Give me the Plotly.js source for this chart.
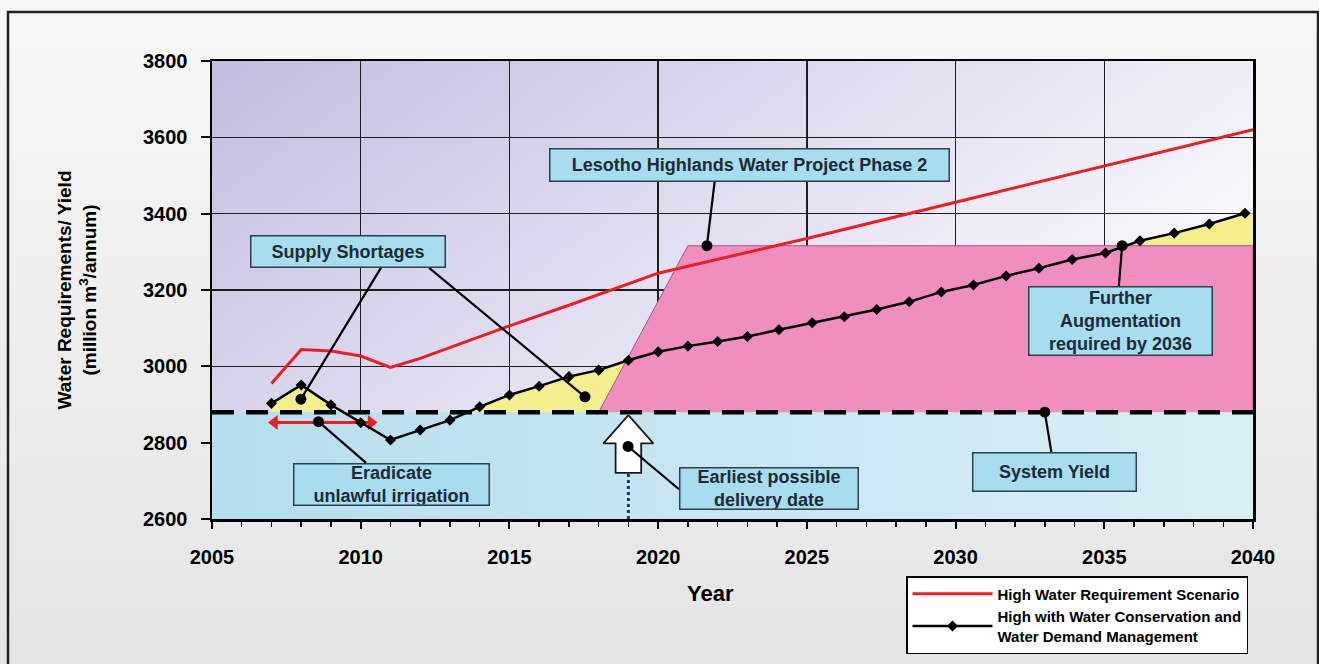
<!DOCTYPE html>
<html>
<head>
<meta charset="utf-8">
<script src="https://cdn.plot.ly/plotly-3.0.1.min.js"></script>
<style>
  html, body { margin: 0; padding: 0; background: #efefef; }
  #chart { width: 1319px; height: 664px; }
</style>
</head>
<body>
<div id="chart"></div>
<script>
// ---------------- DATA ----------------
const xTicks = [2005, 2010, 2015, 2020, 2025, 2030, 2035, 2040];
const yTicks = [2600, 2800, 3000, 3200, 3400, 3600, 3800];

// High Water Requirement Scenario (red)
const redYears  = [2007, 2008, 2009, 2010, 2011, 2012, 2015, 2017, 2020, 2025, 2030, 2035, 2040];
const redValues = [2955, 3044, 3040, 3027, 2997, 3021, 3106, 3160, 3244, 3335, 3430, 3526, 3620];

// High with Water Conservation and Water Demand Management (black, diamonds)
const wcYears  = [2007, 2008, 2009, 2010, 2011, 2012, 2013, 2014, 2015, 2016, 2017, 2018, 2019,
                  2020, 2021, 2022, 2023, 2024.06, 2025.18, 2026.26, 2027.35, 2028.44, 2029.52,
                  2030.6, 2031.7, 2032.8, 2033.92, 2035.04, 2036.2, 2037.35, 2038.53, 2039.73];
const wcValues = [2903, 2951, 2899, 2852, 2807, 2833, 2859, 2894, 2925, 2948, 2973, 2990, 3016,
                  3038, 3053, 3065, 3078, 3096, 3114, 3130, 3149, 3169, 3195,
                  3213, 3237, 3257, 3280, 3297, 3329, 3349, 3373, 3401];

// System yield
const yieldValue = 2880;

// Lesotho Highlands Water Project Phase 2 (augmented yield)
const lhwpYears  = [2018, 2021, 2040, 2040];
const lhwpValues = [2880, 3316, 3316, 2880];

// Earliest possible delivery date (hollow arrow outline)
const deliveryYear = 2019;
const arrowDX = [0, 0.84, 0.43, 0.43, -0.43, -0.43, -0.84, 0];
const arrowY  = [2872, 2798, 2798, 2721, 2721, 2798, 2798, 2872];

// Call-out target points
const dotYears  = [2021.64, 2007.99, 2017.54, 2008.58, 2018.99, 2033.0, 2035.6];
const dotValues = [3316, 2914, 2920, 2855, 2790, 2880, 3316];

// Eradicate unlawful irrigation range (red double arrow)
const irrigYears = [2007.1, 2010.35];
const irrigValue = 2853;

// ---------------- CALL-OUT BOXES (layout) ----------------
const callouts = [
  {text: 'Lesotho Highlands Water Project Phase 2', x: 2023.07, y: 3527.5, w: 401, h: 34,
   links: [{sx: 2021.9, sy: 3484, dot: 0}]},
  {text: 'Supply Shortages', x: 2009.57, y: 3301, w: 196, h: 33,
   links: [{sx: 2010.68, sy: 3258, dot: 1}, {sx: 2012.30, sy: 3258, dot: 2}]},
  {text: 'Eradicate<br>unlawful irrigation', x: 2011.03, y: 2691, w: 197, h: 43,
   links: [{sx: 2010.18, sy: 2747, dot: 3}]},
  {text: 'Earliest possible<br>delivery date', x: 2023.72, y: 2680.5, w: 180, h: 43,
   links: [{sx: 2020.70, sy: 2678, dot: 4}]},
  {text: 'System Yield', x: 2033.31, y: 2724, w: 165, h: 40,
   links: [{sx: 2033.22, sy: 2776, dot: 5}]},
  {text: 'Further<br>Augmentation<br>required by 2036', x: 2035.53, y: 3119, w: 185, h: 70,
   links: [{sx: 2035.49, sy: 3210, dot: 6}]}
];

// ---------------- HELPERS ----------------
function gradImg(stops, x2, y2) {
  const s = stops.map(st => `<stop offset="${st[0]}" stop-color="${st[1]}"/>`).join('');
  const svg = `<svg xmlns="http://www.w3.org/2000/svg" width="200" height="100" viewBox="0 0 200 100" preserveAspectRatio="none"><defs><linearGradient id="g" x1="0" y1="0" x2="${x2}" y2="${y2}">${s}</linearGradient></defs><rect x="0" y="0" width="200" height="100" fill="url(#g)"/></svg>`;
  return 'data:image/svg+xml;charset=utf-8,' + encodeURIComponent(svg);
}

const FONT = 'Liberation Sans, Arial, Helvetica, sans-serif';
const TXT = '#1d2b36';
const xMin = xTicks[0], xMax = xTicks[xTicks.length - 1];
const yMin = yTicks[0], yMax = yTicks[yTicks.length - 1];

// ---------------- TRACES ----------------
const traces = [];

// yellow: shortage area between demand and supply
const lastV = wcValues[wcValues.length - 1];
traces.push({
  x: wcYears.concat([xMax, xMax, wcYears[0]]),
  y: wcValues.concat([lastV, yieldValue, yieldValue]),
  type: 'scatter', mode: 'none', fill: 'toself',
  fillcolor: '#f3ef8c', showlegend: false, hoverinfo: 'skip'
});

// light blue: system yield area
traces.push({
  x: [xMin, xMax, xMax, xMin],
  y: [yMin, yMin, yieldValue, yieldValue],
  type: 'scatter', mode: 'none', fill: 'toself',
  fillcolor: '#c4e6f1',
  fillgradient: {type: 'horizontal', colorscale: [[0, '#b6deed'], [1, '#d9eff6']]},
  showlegend: false, hoverinfo: 'skip'
});

// pink: LHWP Phase 2
traces.push({
  x: lhwpYears, y: lhwpValues,
  type: 'scatter', mode: 'lines', fill: 'toself',
  fillcolor: '#f08fbf', line: {color: '#b0508a', width: 1},
  showlegend: false, hoverinfo: 'skip'
});

// system yield dashed line
traces.push({
  x: [xMin, xMax], y: [yieldValue, yieldValue],
  type: 'scatter', mode: 'lines',
  line: {color: '#000000', width: 4.5, dash: '22px,12px'},
  showlegend: false, hoverinfo: 'skip'
});

// hollow arrow: earliest possible delivery date
traces.push({
  x: arrowDX.map(d => deliveryYear + d), y: arrowY,
  type: 'scatter', mode: 'lines', fill: 'toself', fillcolor: '#ffffff',
  line: {color: '#1a1a1a', width: 1.8}, showlegend: false, hoverinfo: 'skip'
});

// red double arrow: eradicate unlawful irrigation
traces.push({
  x: irrigYears, y: [irrigValue, irrigValue],
  type: 'scatter', mode: 'lines+markers',
  line: {color: '#ee1d23', width: 3},
  marker: {symbol: ['triangle-left', 'triangle-right'], size: 13, color: '#ee1d23'},
  showlegend: false, hoverinfo: 'skip'
});

// red scenario
traces.push({
  x: redYears, y: redValues, type: 'scatter', mode: 'lines',
  name: 'High Water Requirement Scenario',
  line: {color: '#ee1d23', width: 3}
});

// black WC/WDM scenario
traces.push({
  x: wcYears, y: wcValues, type: 'scatter', mode: 'lines+markers',
  name: 'High with Water Conservation and<br>Water Demand Management',
  line: {color: '#000000', width: 2.5},
  marker: {symbol: 'diamond', size: 8.5, color: '#000000'}
});

// call-out dots
traces.push({
  x: dotYears, y: dotValues, type: 'scatter', mode: 'markers',
  marker: {size: 11, color: '#000000'}, showlegend: false, hoverinfo: 'skip'
});

// ---------------- SHAPES ----------------
const shapes = [];
// connector lines
callouts.forEach(c => c.links.forEach(l => {
  shapes.push({type: 'line', xref: 'x', yref: 'y', x0: l.sx, y0: l.sy,
    x1: dotYears[l.dot], y1: dotValues[l.dot], line: {color: '#000000', width: 2.2}});
}));
// dotted line below the delivery arrow
shapes.push({type: 'line', xref: 'x', yref: 'y', x0: deliveryYear, x1: deliveryYear,
  y0: yMin, y1: arrowY[3], line: {color: '#1f3a66', width: 3, dash: 'dot'}});
// outer frame of the figure
shapes.push({type: 'rect', xref: 'paper', yref: 'paper',
  x0: (8 - 212) / 1041, x1: (1318 - 212) / 1041, y0: (519 - 700) / 458, y1: (519 - 12) / 458,
  line: {color: '#222222', width: 2.5}, fillcolor: 'rgba(0,0,0,0)', layer: 'above'});

// ---------------- ANNOTATIONS ----------------
const annotations = callouts.map(c => ({
  x: c.x, y: c.y, xref: 'x', yref: 'y', showarrow: false,
  text: '<b>' + c.text + '</b>',
  font: {family: FONT, size: 18, color: TXT},
  bgcolor: '#a8dcef', bordercolor: '#2b3f4c', borderwidth: 1.5, borderpad: 0,
  width: c.w - 3, height: c.h - 3, align: 'center', valign: 'middle'
}));
// x-axis title
annotations.push({
  xref: 'paper', yref: 'paper', x: (710 - 212) / 1041, y: (519 - 593) / 458,
  xanchor: 'center', yanchor: 'middle', showarrow: false,
  text: '<b>Year</b>', font: {family: FONT, size: 22, color: '#000000'}
});

// ---------------- LAYOUT ----------------
const layout = {
  width: 1319, height: 664,
  margin: {l: 212, r: 66, t: 61, b: 145, pad: 0},
  paper_bgcolor: '#efefef',
  plot_bgcolor: '#e4e2f1',
  font: {family: FONT, color: '#000000'},
  images: [
    {source: gradImg([[0, '#f7f7f7'], [1, '#e5e5e5']], 0, 1),
     xref: 'paper', yref: 'paper', x: -212 / 1041, y: 519 / 458,
     sizex: 1319 / 1041, sizey: 664 / 458, sizing: 'stretch', layer: 'below',
     xanchor: 'left', yanchor: 'top'},
    {source: gradImg([[0, '#c2bddf'], [0.45, '#dedbef'], [1, '#ffffff']], 1, 0.6),
     xref: 'x', yref: 'y', x: xMin, y: yMax, sizex: xMax - xMin, sizey: yMax - yMin,
     sizing: 'stretch', layer: 'below', xanchor: 'left', yanchor: 'top'}
  ],
  xaxis: {
    range: [xMin, xMax], tickmode: 'array', tickvals: xTicks, ticktext: xTicks.map(String),
    showgrid: true, gridcolor: '#1e1e1e', gridwidth: 1.3,
    zeroline: false, showline: true, linecolor: '#000000', linewidth: 2.5, mirror: true,
    ticks: 'outside', ticklen: 7, tickwidth: 2, tickcolor: '#000000',
    ticklabelstandoff: 11,
    minor: {dtick: 1, tick0: 2005, ticks: 'outside', ticklen: 5, tickwidth: 1.5,
            tickcolor: '#000000', showgrid: false},
    tickfont: {family: FONT, size: 20, weight: 'bold', color: '#000000'},
    automargin: false, fixedrange: true
  },
  yaxis: {
    range: [yMin, yMax], tickmode: 'array', tickvals: yTicks, ticktext: yTicks.map(String),
    showgrid: true, gridcolor: '#1e1e1e', gridwidth: 1.3,
    zeroline: false, showline: true, linecolor: '#000000', linewidth: 2.5, mirror: true,
    ticks: 'outside', ticklen: 9, tickwidth: 2, tickcolor: '#000000',
    ticklabelstandoff: 9,
    tickfont: {family: FONT, size: 20, weight: 'bold', color: '#000000'},
    title: {text: 'Water Requirements/ Yield<br>(million m<sup>3</sup>/annum)',
            font: {family: FONT, size: 19, weight: 'bold', color: '#000000'}, standoff: 42},
    automargin: false, fixedrange: true
  },
  legend: {
    xref: 'paper', yref: 'container',
    x: (906 - 212) / 1041, y: (664 - 576) / 664, xanchor: 'left', yanchor: 'top',
    bgcolor: '#ffffff', bordercolor: '#000000', borderwidth: 1.5,
    font: {family: FONT, size: 15, weight: 'bold', color: '#000000'},
    tracegroupgap: 2, itemwidth: 80
  },
  showlegend: true,
  shapes: shapes,
  annotations: annotations
};

Plotly.newPlot('chart', traces, layout, {displayModeBar: false, staticPlot: true});
</script>
</body>
</html>
